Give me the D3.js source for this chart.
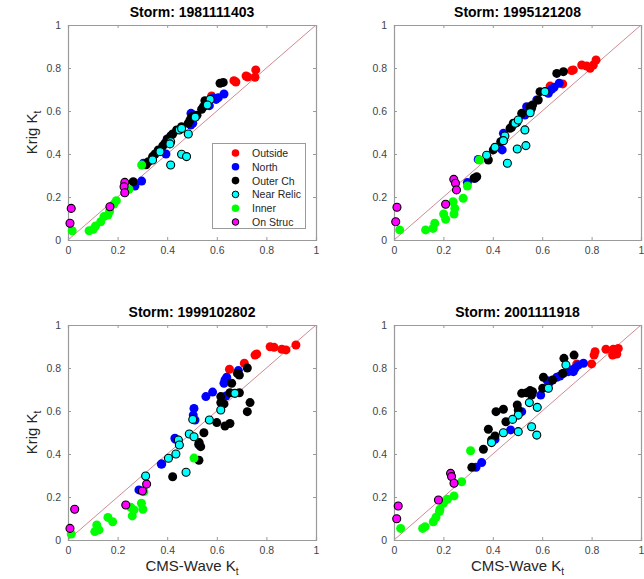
<!DOCTYPE html>
<html>
<head>
<meta charset="utf-8">
<script src="https://cdn.jsdelivr.net/npm/d3@7"></script>
<style>
  body { margin: 0; background: #fff; }
  svg { font-family: "Liberation Sans", Arial, Helvetica, sans-serif; }
</style>
</head>
<body>
<div id="chart"></div>
<script>
// groups, in plotting / legend order
var groups = ["Outside", "North", "Outer Ch", "Near Relic", "Inner", "On Struc"];
var groupColors = ["#ff0000", "#0000ff", "#000000", "#00ffff", "#00ff00", "#ff00ff"];
var groupEdged = [false, false, false, true, false, true];
var storms = ["1981111403", "1995121208", "1999102802", "2001111918"];
var tickValues = [0, 0.2, 0.4, 0.6, 0.8, 1];

// [CMS-Wave Kt, Krig Kt]
// storm 1981111403
var outside1 = [[0.757,0.791],[0.754,0.757],[0.718,0.763],[0.725,0.758],[0.677,0.735],[0.669,0.741],[0.579,0.67]];
var north1 = [[0.629,0.679],[0.606,0.662],[0.597,0.654],[0.585,0.66],[0.57,0.625],[0.496,0.589],[0.505,0.581],[0.495,0.535],[0.503,0.543],[0.4,0.47],[0.405,0.465],[0.395,0.4],[0.304,0.357],[0.297,0.274],[0.27,0.251]];
var outer1 = [[0.613,0.729],[0.626,0.733],[0.552,0.648],[0.556,0.631],[0.539,0.608],[0.546,0.62],[0.52,0.58],[0.492,0.558],[0.499,0.573],[0.485,0.543],[0.458,0.527],[0.438,0.512],[0.422,0.493],[0.414,0.484],[0.4,0.468],[0.391,0.45],[0.382,0.437],[0.364,0.419],[0.351,0.4],[0.341,0.388],[0.324,0.364],[0.315,0.35],[0.263,0.271]];
var relic1 = [[0.573,0.654],[0.562,0.628],[0.513,0.571],[0.485,0.493],[0.449,0.512],[0.458,0.519],[0.414,0.457],[0.411,0.447],[0.371,0.411],[0.341,0.372],[0.458,0.399],[0.478,0.388],[0.414,0.349]];
var inner1 = [[0.017,0.043],[0.085,0.043],[0.102,0.05],[0.111,0.065],[0.132,0.085],[0.145,0.109],[0.161,0.116],[0.168,0.135],[0.185,0.167],[0.195,0.183],[0.246,0.236],[0.297,0.349]];
var struc1 = [[0.013,0.147],[0.008,0.078],[0.229,0.268],[0.226,0.248],[0.229,0.22],[0.169,0.155]];

// storm 1995121208
var outside2 = [[0.818,0.837],[0.807,0.814],[0.794,0.799],[0.78,0.809],[0.76,0.814],[0.726,0.791],[0.719,0.788],[0.683,0.726],[0.632,0.716]];
var north2 = [[0.669,0.729],[0.648,0.71],[0.638,0.701],[0.625,0.682],[0.578,0.651],[0.537,0.62],[0.53,0.581],[0.443,0.496],[0.438,0.419],[0.341,0.375],[0.328,0.287],[0.297,0.267]];
var outer2 = [[0.686,0.783],[0.659,0.775],[0.591,0.69],[0.584,0.651],[0.561,0.628],[0.557,0.613],[0.551,0.62],[0.517,0.589],[0.483,0.543],[0.476,0.524],[0.47,0.52],[0.443,0.465],[0.432,0.457],[0.402,0.419],[0.382,0.372],[0.335,0.294],[0.324,0.287]];
var relic2 = [[0.611,0.69],[0.551,0.592],[0.53,0.512],[0.497,0.546],[0.49,0.543],[0.503,0.558],[0.449,0.484],[0.443,0.462],[0.409,0.431],[0.375,0.394],[0.499,0.423],[0.534,0.439],[0.459,0.357]];
var inner2 = [[0.023,0.047],[0.128,0.047],[0.158,0.054],[0.165,0.078],[0.201,0.121],[0.209,0.096],[0.239,0.178],[0.246,0.147],[0.243,0.121],[0.28,0.194],[0.297,0.251],[0.345,0.372]];
var struc2 = [[0.012,0.152],[0.007,0.085],[0.242,0.282],[0.249,0.264],[0.253,0.233],[0.209,0.166]];

// storm 1999102802
var outside3 = [[0.919,0.907],[0.879,0.884],[0.862,0.887],[0.831,0.896],[0.815,0.899],[0.761,0.865],[0.754,0.86],[0.711,0.822],[0.651,0.794]];
var north3 = [[0.687,0.788],[0.64,0.757],[0.633,0.744],[0.629,0.729],[0.637,0.67],[0.583,0.688],[0.556,0.667],[0.508,0.612],[0.505,0.581],[0.512,0.558],[0.431,0.473],[0.434,0.468],[0.378,0.353],[0.376,0.353],[0.286,0.233]];
var outer3 = [[0.723,0.8],[0.683,0.775],[0.691,0.767],[0.66,0.729],[0.653,0.685],[0.691,0.685],[0.616,0.667],[0.616,0.639],[0.629,0.633],[0.734,0.639],[0.723,0.597],[0.6,0.546],[0.633,0.53],[0.653,0.542],[0.548,0.499],[0.529,0.453],[0.535,0.434],[0.527,0.444],[0.528,0.371],[0.422,0.294]];
var relic3 = [[0.673,0.682],[0.616,0.605],[0.57,0.558],[0.503,0.561],[0.489,0.493],[0.508,0.48],[0.445,0.465],[0.449,0.442],[0.435,0.4],[0.405,0.38],[0.476,0.315],[0.313,0.298]];
var inner3 = [[0.508,0.381],[0.013,0.028],[0.108,0.039],[0.125,0.047],[0.116,0.07],[0.161,0.105],[0.18,0.085],[0.253,0.152],[0.266,0.14],[0.259,0.112],[0.296,0.171],[0.302,0.143],[0.306,0.225]];
var struc3 = [[0.008,0.054],[0.027,0.143],[0.233,0.163],[0.3,0.228],[0.317,0.26]];

// storm 2001111918
var outside4 = [[0.908,0.891],[0.899,0.876],[0.888,0.887],[0.885,0.86],[0.902,0.865],[0.858,0.887],[0.814,0.876],[0.81,0.86],[0.8,0.819],[0.74,0.819]];
var north4 = [[0.767,0.822],[0.746,0.814],[0.733,0.799],[0.719,0.791],[0.706,0.783],[0.726,0.783],[0.686,0.775],[0.672,0.763],[0.659,0.757],[0.621,0.741],[0.629,0.732],[0.594,0.674],[0.507,0.592],[0.517,0.597],[0.472,0.512],[0.409,0.468],[0.355,0.36],[0.332,0.338]];
var outer4 = [[0.729,0.86],[0.688,0.845],[0.683,0.775],[0.642,0.744],[0.605,0.757],[0.602,0.706],[0.561,0.69],[0.551,0.695],[0.537,0.685],[0.557,0.674],[0.517,0.682],[0.499,0.628],[0.503,0.605],[0.443,0.608],[0.413,0.597],[0.453,0.55],[0.382,0.515],[0.409,0.484],[0.395,0.465],[0.362,0.422],[0.315,0.338]];
var relic4 = [[0.696,0.814],[0.625,0.706],[0.548,0.639],[0.58,0.617],[0.503,0.581],[0.48,0.561],[0.443,0.499],[0.503,0.504],[0.557,0.527],[0.578,0.488],[0.395,0.453]];
var inner4 = [[0.31,0.415],[0.027,0.054],[0.116,0.054],[0.126,0.062],[0.159,0.085],[0.17,0.106],[0.184,0.132],[0.186,0.143],[0.2,0.171],[0.216,0.189],[0.243,0.205],[0.274,0.271]];
var struc4 = [[0.017,0.158],[0.011,0.099],[0.229,0.31],[0.233,0.295],[0.243,0.264],[0.18,0.186]];

var stormData = [
  [outside1, north1, outer1, relic1, inner1, struc1],
  [outside2, north2, outer2, relic2, inner2, struc2],
  [outside3, north3, outer3, relic3, inner3, struc3],
  [outside4, north4, outer4, relic4, inner4, struc4]
];

var width = 644, height = 579;
var panels = [
  {left: 68, right: 316, top: 25, bottom: 240},
  {left: 394, right: 641, top: 25, bottom: 240},
  {left: 68, right: 316, top: 325, bottom: 540},
  {left: 394, right: 641, top: 325, bottom: 540}
];

var svg = d3.select("#chart").append("svg")
  .attr("width", width)
  .attr("height", height);

var axisColor = "#9a9a9a";
var fmt = d3.format("~g");

panels.forEach(function(p, i) {
  var x = d3.scaleLinear().domain([0, 1]).range([p.left, p.right]);
  var y = d3.scaleLinear().domain([0, 1]).range([p.bottom, p.top]);
  var g = svg.append("g");

  // box
  g.append("rect")
    .attr("x", p.left).attr("y", p.top)
    .attr("width", p.right - p.left).attr("height", p.bottom - p.top)
    .attr("fill", "#fff");

  // axes, ticks pointing in (MATLAB style)
  var ax = [
    g.append("g").attr("transform", "translate(0," + p.bottom + ")")
      .call(d3.axisBottom(x).tickValues(tickValues).tickSize(-3).tickPadding(7).tickFormat(fmt)),
    g.append("g").attr("transform", "translate(" + p.left + ",0)")
      .call(d3.axisLeft(y).tickValues(tickValues).tickSize(-3).tickPadding(7).tickFormat(fmt)),
    g.append("g").attr("transform", "translate(0," + p.top + ")")
      .call(d3.axisTop(x).tickValues(tickValues).tickSize(-3).tickFormat("")),
    g.append("g").attr("transform", "translate(" + p.right + ",0)")
      .call(d3.axisRight(y).tickValues(tickValues).tickSize(-3).tickFormat(""))
  ];
  ax.forEach(function(a) {
    a.selectAll("path").attr("stroke", axisColor).attr("stroke-width", 1.2);
    a.selectAll("line").attr("stroke", axisColor);
    a.selectAll("text").attr("fill", "#444").style("font-size", "10.5px")
      .style("font-family", "'Liberation Sans', Arial, sans-serif");
  });

  // 1:1 line
  g.append("line")
    .attr("x1", x(0)).attr("y1", y(0))
    .attr("x2", x(1)).attr("y2", y(1))
    .attr("stroke", "#cf8a92").attr("stroke-width", 1);

  // points, group by group
  stormData[i].forEach(function(pts, k) {
    g.append("g").selectAll("circle")
      .data(pts)
      .enter().append("circle")
      .attr("cx", function(d) { return x(d[0]); })
      .attr("cy", function(d) { return y(d[1]); })
      .attr("r", groupEdged[k] ? 4.0 : 4.5)
      .attr("fill", groupColors[k])
      .attr("stroke", groupEdged[k] ? "#000" : "none")
      .attr("stroke-width", 1.1);
  });

  // title
  g.append("text")
    .attr("x", (p.left + p.right) / 2)
    .attr("y", p.top - 8)
    .attr("text-anchor", "middle")
    .style("font-size", "14px")
    .style("font-weight", "bold")
    .text("Storm: " + storms[i]);

  // y label on left panels
  if (i % 2 === 0) {
    var yl = g.append("text")
      .attr("transform", "translate(37," + ((p.top + p.bottom) / 2) + ") rotate(-90)")
      .attr("text-anchor", "middle")
      .style("font-size", "15px")
      .attr("fill", "#262626");
    yl.append("tspan").text("Krig K");
    yl.append("tspan").attr("dy", 4).style("font-size", "10px").text("t");
  }
  // x label on bottom panels
  if (i >= 2) {
    var xl = g.append("text")
      .attr("x", (p.left + p.right) / 2)
      .attr("y", p.bottom + 31)
      .attr("text-anchor", "middle")
      .style("font-size", "15px")
      .attr("fill", "#262626");
    xl.append("tspan").text("CMS-Wave K");
    xl.append("tspan").attr("dy", 4).style("font-size", "10px").text("t");
  }

  // legend in first panel
  if (i === 0) {
    var lg = g.append("g");
    lg.append("rect")
      .attr("x", 212.5).attr("y", 143.5)
      .attr("width", 93).attr("height", 85)
      .attr("fill", "#fff").attr("stroke", axisColor);
    groups.forEach(function(name, k) {
      var ly = 153 + k * 13.8;
      lg.append("circle")
        .attr("cx", 235.5).attr("cy", ly)
        .attr("r", groupEdged[k] ? 3.3 : 3.8)
        .attr("fill", groupColors[k])
        .attr("stroke", groupEdged[k] ? "#000" : "none")
        .attr("stroke-width", 1);
      lg.append("text")
        .attr("x", 252).attr("y", ly + 4)
        .style("font-size", "10.5px")
        .attr("fill", "#262626")
        .text(name);
    });
  }
});
</script>
</body>
</html>
